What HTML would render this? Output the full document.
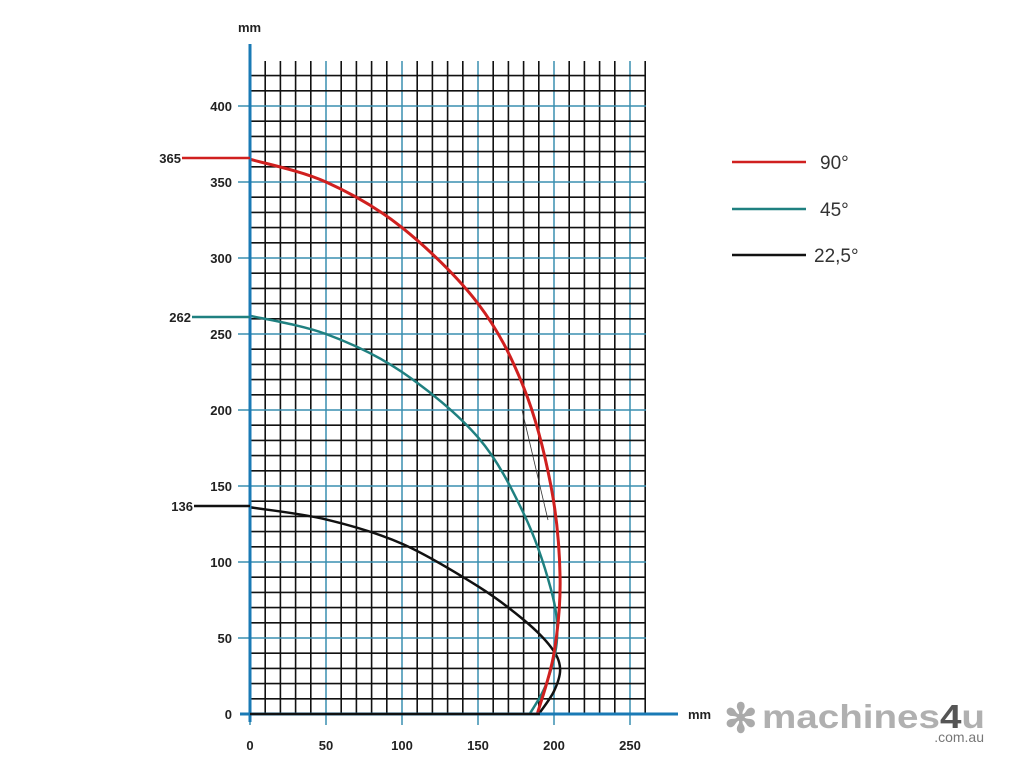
<!DOCTYPE html>
<html><head><meta charset="utf-8"><style>
body{margin:0;background:#fff;width:1024px;height:768px;overflow:hidden}
svg text{font-family:"Liberation Sans",Arial,sans-serif}
</style></head><body>
<svg id="s" width="1024" height="768" xmlns="http://www.w3.org/2000/svg">
<g id="grid"></g>
<g id="curves"></g>
<line x1="250" y1="44" x2="250" y2="722" stroke="#1a7ab5" stroke-width="3"/>
<line x1="240" y1="714" x2="678" y2="714" stroke="#1a7ab5" stroke-width="3"/>
<g font-size="13" font-weight="bold" fill="#222">
<text x="238" y="32">mm</text>
<text x="688" y="719">mm</text>
</g>
<line x1="522" y1="410" x2="548" y2="520" stroke="#333" stroke-width="0.8"/>
<line x1="182" y1="158" x2="250" y2="158" stroke="#d0201f" stroke-width="2.5"/>
<line x1="192" y1="317" x2="250" y2="317" stroke="#1f8080" stroke-width="2.5"/>
<line x1="194" y1="506" x2="250" y2="506" stroke="#111" stroke-width="2.5"/>
<line x1="250" y1="714" x2="540" y2="714" stroke="#111" stroke-width="2.5"/>
<g font-size="13" font-weight="bold" fill="#222">
<text x="181" y="163" text-anchor="end">365</text>
<text x="191" y="322" text-anchor="end">262</text>
<text x="193" y="511" text-anchor="end">136</text>
</g>
<line x1="732" y1="162" x2="806" y2="162" stroke="#d0201f" stroke-width="2.5"/>
<line x1="732" y1="209" x2="806" y2="209" stroke="#1f8080" stroke-width="2.5"/>
<line x1="732" y1="255" x2="806" y2="255" stroke="#111" stroke-width="2.5"/>
<g font-size="19" fill="#333">
<text x="820" y="169">90°</text>
<text x="820" y="216">45°</text>
<text x="814" y="262">22,5°</text>
</g>
<text x="724" y="732" font-size="40" fill="#aaa" font-weight="bold">✻</text>
<text x="762" y="728" font-size="33" fill="#b0b0b0" font-weight="bold" textLength="223" lengthAdjust="spacingAndGlyphs">machines<tspan fill="#555">4</tspan>u</text>
<text x="984" y="742" font-size="14" fill="#777" text-anchor="end">.com.au</text>
</svg>
<script>
var ns="http://www.w3.org/2000/svg",g=document.getElementById("grid"),c=document.getElementById("curves");
function X(m){return 250+m*1.52}function Y(m){return 714-m*1.52}
function L(p,a){var e=document.createElementNS(ns,"line");for(var k in a)e.setAttribute(k,a[k]);p.appendChild(e);return e}
for(var i=0;i<=26;i++){var blue=i%5==0;L(g,{x1:X(i*10),y1:61,x2:X(i*10),y2:blue?725:714,stroke:blue?"#3a8fb0":"#111","stroke-width":blue?1.5:1.6});}
for(var j=1;j<=42;j++){var blue=j%5==0;L(g,{x1:blue?238:250,y1:Y(j*10),x2:646,y2:Y(j*10),stroke:blue?"#3a8fb0":"#111","stroke-width":blue?1.5:1.6});}
var lab=document.createElementNS(ns,"g");lab.setAttribute("font-size","13");lab.setAttribute("font-weight","bold");lab.setAttribute("fill","#222");document.getElementById("s").appendChild(lab);
function T(x,y,t,a){var e=document.createElementNS(ns,"text");e.setAttribute("x",x);e.setAttribute("y",y);e.setAttribute("text-anchor",a);e.textContent=t;lab.appendChild(e)}
for(var v=0;v<=250;v+=50)T(X(v),750,v,"middle");
for(var v=0;v<=400;v+=50)T(232,Y(v)+5,v,"end");
function curve(pts,col,w){var P=pts.map(function(p){return[X(p[0]),Y(p[1])]});var d="M"+P[0];
for(var i=0;i<P.length-1;i++){var p0=P[i-1]||P[i],p1=P[i],p2=P[i+1],p3=P[i+2]||P[i+1];
d+=" C"+(p1[0]+(p2[0]-p0[0])/6)+","+(p1[1]+(p2[1]-p0[1])/6)+" "+(p2[0]-(p3[0]-p1[0])/6)+","+(p2[1]-(p3[1]-p1[1])/6)+" "+p2[0]+","+p2[1];}
var e=document.createElementNS(ns,"path");e.setAttribute("d",d);e.setAttribute("fill","none");e.setAttribute("stroke",col);e.setAttribute("stroke-width",w);c.appendChild(e);}
curve([[0,136],[50,128],[100,112],[150,84],[180,62],[198,44],[204,30],[200,15],[190,0]],"#111",2.5);
curve([[0,262],[50,250],[100,225],[150,182],[180,132],[198,82],[202,50],[195,20],[184,0]],"#1f8080",2.5);
curve([[0,365],[50,350],[100,320],[150,270],[180,215],[198,150],[204,90],[200,40],[189,0]],"#d0201f",3);
</script>
</body></html>
